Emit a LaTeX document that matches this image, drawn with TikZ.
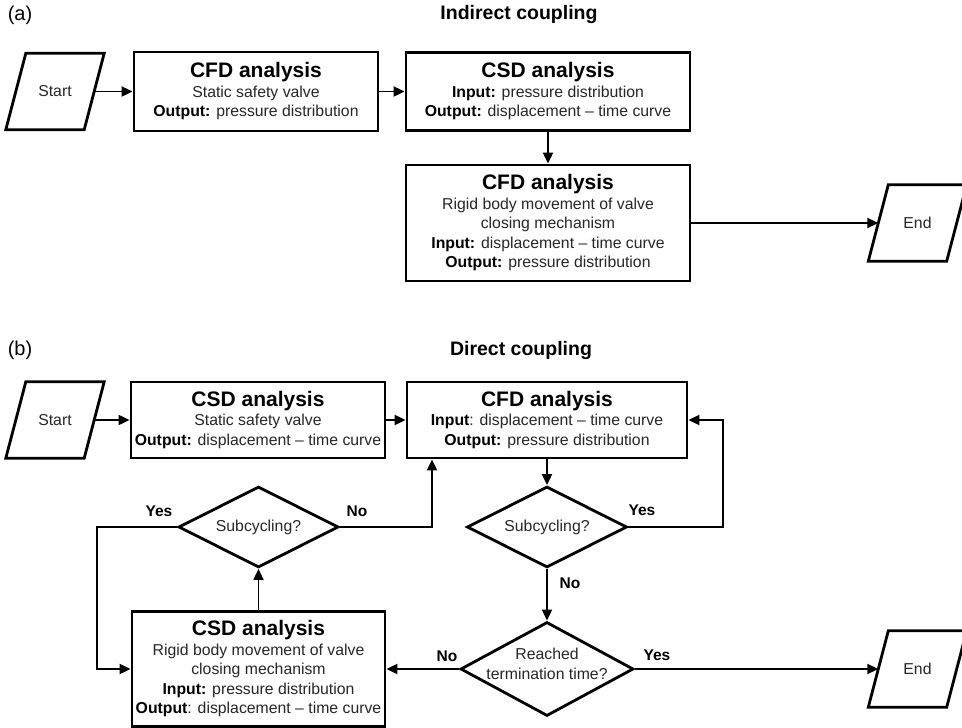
\documentclass[tikz,border=0pt]{standalone}
\usepackage{fontspec}
\setmainfont{Liberation Sans}
\usetikzlibrary{arrows.meta,shapes.geometric}
\newcommand\drawpara[1]{\draw[line width=2.8pt, line join=miter] ([xshift=10pt]#1.north west) -- ([xshift=10pt]#1.north east) -- ([xshift=-10pt]#1.south east) -- ([xshift=-10pt]#1.south west) -- cycle;}
\newcommand\hd[1]{{\fontsize{21}{19.5}\selectfont\bfseries\color{black}#1}}
\newcommand\bo[1]{{\bfseries\color{black}#1}}
\begin{document}
\begin{tikzpicture}[x=1pt,y=-1pt,
  boxnode/.style={draw, line width=2.8pt, rectangle, inner sep=0pt, align=center, font=\fontsize{15.8}{19.5}\selectfont, text=black!85},
  decnode/.style={draw, line width=2.8pt, diamond, inner sep=0pt},
  paranode/.style={rectangle, inner sep=0pt, minimum width=78pt, minimum height=76pt, font=\fontsize{15.8}{19}\selectfont, text=black!85},
  dectext/.style={align=center, font=\fontsize{15.8}{19.5}\selectfont, text=black!85},
  lbl/.style={font=\bfseries\fontsize{15.5}{18}\selectfont},
  ttl/.style={font=\bfseries\fontsize{19.5}{22}\selectfont},
  plab/.style={font=\fontsize{20}{22}\selectfont},
  arr/.style={line width=1.9pt, -{Triangle[length=11pt,width=10pt]}},
  ln/.style={line width=1.9pt}
]
\useasboundingbox (0,0) rectangle (962,728);

% ---------- (a) ----------
\node[plab] (labA) at (20,15) {(a)};
\node[ttl] (ttlA) at (519,15) {Indirect coupling};

\node[paranode] (startA) at (55,91.5) {Start};
\drawpara{startA}
\node[boxnode, minimum width=244pt, minimum height=79pt] (cfdA1) at (256,91.5)
  {\hd{CFD analysis}\\Static safety valve\\\bo{Output:} pressure distribution};
\node[boxnode, minimum width=284pt, minimum height=78pt] (csdA) at (548,91.5)
  {\hd{CSD analysis}\\\bo{Input:} pressure distribution\\\bo{Output:} displacement -- time curve};
\node[boxnode, minimum width=284pt, minimum height=116pt] (cfdA2) at (548,223)
  {\hd{CFD analysis}\\Rigid body movement of valve\\closing mechanism\\\bo{Input:} displacement -- time curve\\\bo{Output:} pressure distribution};
\node[paranode] (endA) at (917.5,223) {End};
\drawpara{endA}

\draw[arr] (startA) -- (cfdA1);
\draw[arr] (cfdA1) -- (csdA);
\draw[arr] (csdA) -- (cfdA2);
\draw[arr] (cfdA2) -- (endA);

% ---------- (b) ----------
\node[plab] (labB) at (20,350) {(b)};
\node[ttl] (ttlB) at (521,350) {Direct coupling};

\node[paranode] (startB) at (55,420) {Start};
\drawpara{startB}
\node[boxnode, minimum width=254pt, minimum height=76pt] (csdB1) at (258,420)
  {\hd{CSD analysis}\\Static safety valve\\\bo{Output:} displacement -- time curve};
\node[boxnode, minimum width=280pt, minimum height=76pt] (cfdB) at (547,420)
  {\hd{CFD analysis}\\\bo{Input}: displacement -- time curve\\\bo{Output:} pressure distribution};

\node[decnode, minimum width=160pt, minimum height=81pt] (sub1) at (258.5,527) {};
\node[dectext] (sub1t) at (sub1) {Subcycling?};
\node[decnode, minimum width=160pt, minimum height=81pt] (sub2) at (547,527) {};
\node[dectext] (sub2t) at (sub2) {Subcycling?};
\node[decnode, minimum width=173pt, minimum height=94pt] (term) at (547,669) {};
\node[dectext] (termt) at (547,664) {Reached\\termination time?};

\node[boxnode, minimum width=253pt, minimum height=115pt] (csdB2) at (258.5,669)
  {\hd{CSD analysis}\\Rigid body movement of valve\\closing mechanism\\\bo{Input:} pressure distribution\\\bo{Output}: displacement -- time curve};
\node[paranode] (endB) at (917.5,669) {End};
\drawpara{endB}

\coordinate (fbR) at (723,420);
\coordinate (fbL) at (97,669);
\coordinate (upN) at (432,527);

\draw[arr] (startB) -- (csdB1);
\draw[arr] (csdB1) -- (cfdB);
\draw[arr] (cfdB) -- (sub2);
\draw[arr] (sub2.east) -| (fbR) -- (cfdB.east);
\draw[arr] (sub2) -- (term);
\draw[arr] (term) -- (csdB2);
\draw[arr] (term) -- (endB);
\draw[arr] (csdB2) -- (sub1);
\draw[arr] (sub1.west) -| (fbL) -- (csdB2.west);
\draw[arr] (sub1.east) -- (upN) -- (upN |- cfdB.south);

\node[lbl] (y1) at (159,511) {Yes};
\node[lbl] (n1) at (357,511) {No};
\node[lbl] (y2) at (642,510) {Yes};
\node[lbl] (n2) at (570,583) {No};
\node[lbl] (n3) at (447,656) {No};
\node[lbl] (y3) at (657,655) {Yes};
\end{tikzpicture}
\end{document}
